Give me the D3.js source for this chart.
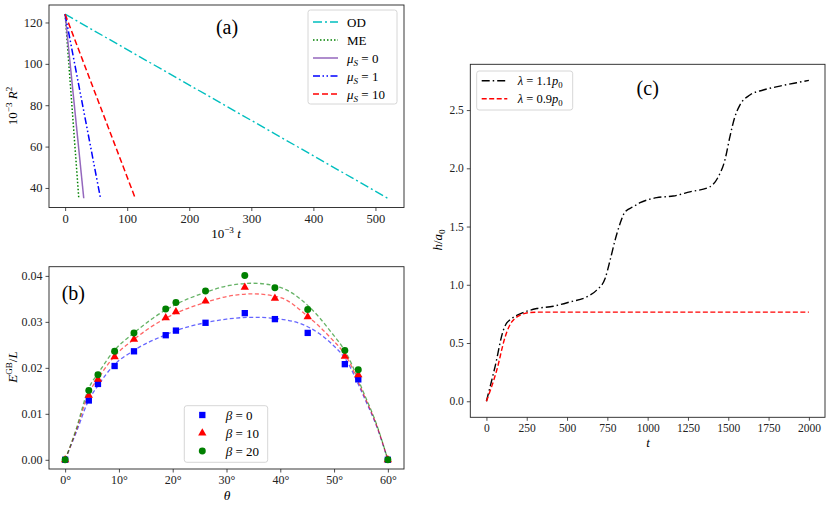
<!DOCTYPE html>
<html lang="en">
<head>
<meta charset="UTF-8">
<title>Three panels</title>
<script src="https://cdn.jsdelivr.net/npm/d3@7"></script>
<style>
  body { margin: 0; background: #fff; }
  svg text { font-family: "Liberation Serif", "Times New Roman", Tinos, "DejaVu Serif", serif; }
  .tick line { stroke: #222; stroke-width: 0.8; }
  .tick text { fill: #222; }
</style>
</head>
<body>
<div id="chart"></div>
<script>
// ---------- panel (a): straight decay lines, 10^-3 R^2 vs 10^-3 t
const r2Ends = [124, 35];
const odT = [0, 520];
const meT = [0, 22];
const mu0T = [0, 30];
const mu1T = [0, 57];
const mu10T = [0, 113];
const aXTicks = [0, 100, 200, 300, 400, 500];
const aYTicks = [40, 60, 80, 100, 120];

// ---------- panel (b): E^GB/L vs theta
const theta = [0, 4.4, 6.1, 9.2, 12.8, 18.7, 20.6, 26.1, 33.4, 39.0, 45.1, 52.0, 54.5, 60];
const beta0 = [0, 0.0129, 0.0165, 0.0204, 0.0236, 0.0271, 0.0281, 0.0298, 0.0319, 0.0306, 0.0276, 0.0208, 0.0175, 0];
const beta10 = [0, 0.0140, 0.0175, 0.0224, 0.0262, 0.0309, 0.0322, 0.0345, 0.0375, 0.0351, 0.0311, 0.0225, 0.0185, 0];
const beta20 = [0, 0.0151, 0.0185, 0.0236, 0.0276, 0.0328, 0.0342, 0.0367, 0.0401, 0.0374, 0.0327, 0.0238, 0.0196, 0];
const fitTheta = [0, 2, 4.4, 6.2, 9, 12.8, 18.7, 20.6, 26, 30, 35, 40, 45, 49.3, 52.4, 55.5, 58, 60];
const fit0 = [0, 0.0058, 0.0130, 0.0163, 0.0205, 0.0238, 0.0272, 0.0281, 0.0298, 0.0306, 0.0310, 0.0306, 0.0290, 0.0255, 0.0214, 0.0138, 0.0070, 0];
const fit10 = [0, 0.0062, 0.0145, 0.0178, 0.0223, 0.0262, 0.0308, 0.0319, 0.0342, 0.0355, 0.0361, 0.0353, 0.0313, 0.0266, 0.0222, 0.0142, 0.0072, 0];
const fit20 = [0, 0.0065, 0.0156, 0.0189, 0.0236, 0.0276, 0.0326, 0.0338, 0.0364, 0.0378, 0.0384, 0.0375, 0.0337, 0.0280, 0.0229, 0.0146, 0.0074, 0];
const bXTicks = [0, 10, 20, 30, 40, 50, 60];
const bYTicks = [0, 0.01, 0.02, 0.03, 0.04];

// ---------- panel (c): h/a0 vs t
const tHigh = [0, 54, 105, 125, 147, 209, 312, 415, 519, 622, 684, 736, 767, 798, 829, 860, 911, 953, 1015, 1056, 1159, 1262, 1386, 1438, 1479, 1510, 1541, 1572, 1634, 1717, 1820, 1924, 2000];
const hHigh = [0, 0.30, 0.61, 0.67, 0.70, 0.75, 0.796, 0.816, 0.853, 0.896, 0.954, 1.054, 1.21, 1.383, 1.526, 1.626, 1.67, 1.705, 1.735, 1.748, 1.762, 1.798, 1.841, 1.927, 2.07, 2.27, 2.442, 2.543, 2.629, 2.672, 2.706, 2.735, 2.755];
const tLow = [0, 64, 116, 140, 157, 185, 209, 240, 271, 320, 2000];
const hLow = [0, 0.266, 0.552, 0.64, 0.681, 0.72, 0.739, 0.755, 0.762, 0.765, 0.765];
const cXTicks = [0, 250, 500, 750, 1000, 1250, 1500, 1750, 2000];
const cYTicks = [0, 0.5, 1.0, 1.5, 2.0, 2.5];

const FONT = '"Liberation Serif", "Times New Roman", Tinos, "DejaVu Serif", serif';
const W = 830, H = 506;
const svg = d3.select('#chart').append('svg')
    .attr('width', W).attr('height', H)
    .attr('font-family', FONT);
svg.append('rect').attr('width', W).attr('height', H).attr('fill', '#fff');

// mathtext-ish label: parts = [{t, it, sup, sub}]
function rich(text, parts, size) {
    let shift = 0;
    text.attr('font-family', FONT);
    parts.forEach(p => {
        const lvl = p.sup ? -0.42 * size : p.sub ? 0.25 * size : 0;
        const ts = text.append('tspan').text(p.t).attr('dy', lvl - shift);
        if (p.sup || p.sub) ts.attr('font-size', size * 0.7);
        if (p.it) ts.attr('font-style', 'italic');
        shift = lvl;
    });
    return text;
}

function frame(x, y) {
    svg.append('rect')
        .attr('x', x.range()[0]).attr('y', y.range()[1])
        .attr('width', x.range()[1] - x.range()[0])
        .attr('height', y.range()[0] - y.range()[1])
        .attr('fill', 'none').attr('stroke', '#222').attr('stroke-width', 0.9);
}

function axes(x, y, xt, yt, xfmt, yfmt, fs) {
    const gx = svg.append('g')
        .attr('transform', `translate(0,${y.range()[0]})`)
        .call(d3.axisBottom(x).tickValues(xt).tickFormat(xfmt).tickSize(3.5).tickPadding(3));
    const gy = svg.append('g')
        .attr('transform', `translate(${x.range()[0]},0)`)
        .call(d3.axisLeft(y).tickValues(yt).tickFormat(yfmt).tickSize(3.5).tickPadding(3));
    [gx, gy].forEach(g => {
        g.select('.domain').remove();
        g.attr('font-family', FONT).attr('font-size', fs);
    });
}

function legendBox(x0, y0, w, h) {
    svg.append('rect')
        .attr('x', x0).attr('y', y0).attr('width', w).attr('height', h)
        .attr('rx', 2.5).attr('fill', '#fff').attr('fill-opacity', 0.8)
        .attr('stroke', '#ccc').attr('stroke-width', 0.8);
}

// ================= (a)
{
    const x = d3.scaleLinear().domain([-26, 546]).range([49, 404]);
    const y = d3.scaleLinear().domain([30.55, 128.45]).range([207.5, 5]);
    axes(x, y, aXTicks, aYTicks, d3.format('d'), d3.format('d'), 12.5);

    const series = [
        {t: odT, c: '#00bfbf', dash: '9,3,2,3', w: 1.4, name: [{t: 'OD'}]},
        {t: meT, c: '#008000', dash: '1.5,2', w: 1.5, name: [{t: 'ME'}]},
        {t: mu0T, c: '#9467bd', dash: null, w: 1.5, name: [{t: 'μ', it: 1}, {t: 'S', it: 1, sub: 1}, {t: ' = 0'}]},
        {t: mu1T, c: '#0000ff', dash: '7,2.5,1.5,2.5,1.5,2.5', w: 1.5, name: [{t: 'μ', it: 1}, {t: 'S', it: 1, sub: 1}, {t: ' = 1'}]},
        {t: mu10T, c: '#ff0000', dash: '6,3', w: 1.5, name: [{t: 'μ', it: 1}, {t: 'S', it: 1, sub: 1}, {t: ' = 10'}]}
    ];
    const line = d3.line().x(d => x(d[0])).y(d => y(d[1]));
    series.forEach(s => {
        svg.append('path')
            .datum(s.t.map((t, i) => [t, r2Ends[i]]))
            .attr('d', line).attr('fill', 'none')
            .attr('stroke', s.c).attr('stroke-width', s.w)
            .attr('stroke-dasharray', s.dash);
    });
    frame(x, y);

    legendBox(308, 10, 89, 94);
    series.forEach((s, i) => {
        const ly = 22 + i * 18;
        svg.append('line').attr('x1', 313).attr('x2', 338).attr('y1', ly).attr('y2', ly)
            .attr('stroke', s.c).attr('stroke-width', s.w).attr('stroke-dasharray', s.dash);
        rich(svg.append('text').attr('x', 347).attr('y', ly + 4.5).attr('font-size', 13), s.name, 13);
    });

    svg.append('text').attr('x', 227).attr('y', 34).attr('text-anchor', 'middle')
        .attr('font-family', FONT).attr('font-size', 20).text('(a)');
    rich(svg.append('text').attr('x', 226).attr('y', 238).attr('text-anchor', 'middle').attr('font-size', 13),
        [{t: '10'}, {t: '−3', sup: 1}, {t: ' '}, {t: 't', it: 1}], 13);
    rich(svg.append('text').attr('transform', 'translate(17,106) rotate(-90)').attr('text-anchor', 'middle').attr('font-size', 13),
        [{t: '10'}, {t: '−3', sup: 1}, {t: ' '}, {t: 'R', it: 1}, {t: '2', sup: 1}], 13);
}

// ================= (b)
{
    const x = d3.scaleLinear().domain([-3, 63]).range([49, 404]);
    const y = d3.scaleLinear().domain([-0.002, 0.042]).range([469, 266.7]);
    axes(x, y, bXTicks, bYTicks, d => d + '°', d3.format('.2f'), 12);

    const groups = [
        {v: beta0, fit: fit0, c: '#0000ff', sym: d3.symbolSquare, size: 40, name: '0'},
        {v: beta10, fit: fit10, c: '#ff0000', sym: d3.symbolTriangle, size: 30, name: '10'},
        {v: beta20, fit: fit20, c: '#008000', sym: d3.symbolCircle, size: 38, name: '20'}
    ];
    const line = d3.line().curve(d3.curveMonotoneX).x(d => x(d[0])).y(d => y(d[1]));
    // fitted dashed curves under the markers
    groups.forEach(g => {
        svg.append('path')
            .datum(fitTheta.map((t, i) => [t, g.fit[i]]))
            .attr('d', line).attr('fill', 'none')
            .attr('stroke', g.c).attr('stroke-opacity', 0.6)
            .attr('stroke-width', 1.3).attr('stroke-dasharray', '4,2.5');
    });
    groups.forEach(g => {
        svg.append('g').selectAll('path')
            .data(theta.map((t, i) => [t, g.v[i]]))
            .join('path')
            .attr('transform', d => `translate(${x(d[0])},${y(d[1])})`)
            .attr('d', d3.symbol(g.sym, g.size))
            .attr('fill', g.c);
    });
    frame(x, y);

    legendBox(184.3, 405.7, 83.4, 56.6);
    groups.forEach((g, i) => {
        const ly = 415 + i * 18;
        svg.append('path').attr('transform', `translate(202.3,${ly})`)
            .attr('d', d3.symbol(g.sym, g.size)).attr('fill', g.c);
        rich(svg.append('text').attr('x', 225.7).attr('y', ly + 4.5).attr('font-size', 13),
            [{t: 'β', it: 1}, {t: ' = ' + g.name}], 13);
    });

    svg.append('text').attr('x', 73.3).attr('y', 300).attr('text-anchor', 'middle')
        .attr('font-family', FONT).attr('font-size', 20).text('(b)');
    rich(svg.append('text').attr('x', 227).attr('y', 500).attr('text-anchor', 'middle').attr('font-size', 13.5),
        [{t: 'θ', it: 1}], 13.5);
    rich(svg.append('text').attr('transform', 'translate(17,367) rotate(-90)').attr('text-anchor', 'middle').attr('font-size', 13),
        [{t: 'E', it: 1}, {t: 'GB', sup: 1}, {t: '/'}, {t: 'L', it: 1}], 13);
}

// ================= (c)
{
    const x = d3.scaleLinear().domain([-100, 2100]).range([470.3, 825]);
    const y = d3.scaleLinear().domain([-0.1378, 2.893]).range([417.3, 64.3]);
    axes(x, y, cXTicks, cYTicks, d3.format('d'), d3.format('.1f'), 11.5);

    const series = [
        {t: tHigh, h: hHigh, c: '#000', dash: '8,3,1.5,3', name: '1.1'},
        {t: tLow, h: hLow, c: '#ff0000', dash: '5,2.5', name: '0.9'}
    ];
    const line = d3.line().curve(d3.curveMonotoneX).x(d => x(d[0])).y(d => y(d[1]));
    series.forEach(s => {
        svg.append('path')
            .datum(s.t.map((t, i) => [t, s.h[i]]))
            .attr('d', line).attr('fill', 'none')
            .attr('stroke', s.c).attr('stroke-width', 1.4)
            .attr('stroke-dasharray', s.dash);
    });
    frame(x, y);

    legendBox(476.7, 71, 96, 39);
    series.forEach((s, i) => {
        const ly = 80.7 + i * 18;
        svg.append('line').attr('x1', 481.7).attr('x2', 507.3).attr('y1', ly).attr('y2', ly)
            .attr('stroke', s.c).attr('stroke-width', 1.4).attr('stroke-dasharray', s.dash);
        rich(svg.append('text').attr('x', 517.7).attr('y', ly + 4.5).attr('font-size', 12.5),
            [{t: 'λ', it: 1}, {t: ' = ' + s.name}, {t: 'p', it: 1}, {t: '0', sub: 1}], 12.5);
    });

    svg.append('text').attr('x', 647.7).attr('y', 95).attr('text-anchor', 'middle')
        .attr('font-family', FONT).attr('font-size', 20).text('(c)');
    rich(svg.append('text').attr('x', 648).attr('y', 447).attr('text-anchor', 'middle').attr('font-size', 13),
        [{t: 't', it: 1}], 13);
    rich(svg.append('text').attr('transform', 'translate(442,240) rotate(-90)').attr('text-anchor', 'middle').attr('font-size', 13),
        [{t: 'h', it: 1}, {t: '/'}, {t: 'a', it: 1}, {t: '0', sub: 1}], 13);
}
</script>
</body>
</html>
